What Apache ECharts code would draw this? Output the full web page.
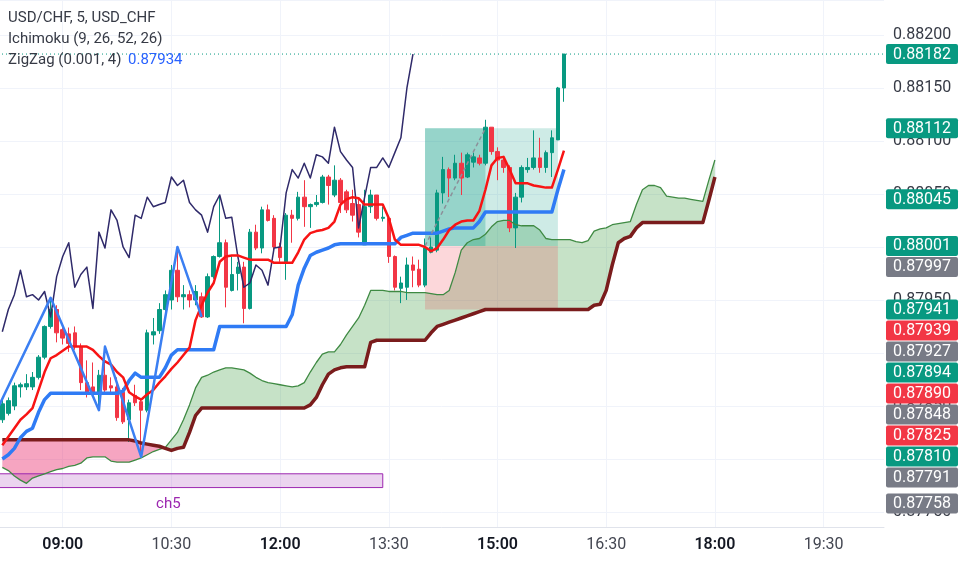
<!DOCTYPE html>
<html><head><meta charset="utf-8">
<script src="https://cdn.jsdelivr.net/npm/echarts@6/dist/echarts.min.js"></script>
<style>html,body{margin:0;padding:0;background:#fff}#c{width:962px;height:564px}</style>
</head><body><div id="c"></div>
<script>
// ---- time slots (5 min) from 07:30; first candle at slot 8 (08:10) ----
const slotCount = 155;
const firstBar = 8;
const lagShift = 25;
const tickLabels = ['09:00','10:30','12:00','13:30','15:00','16:30','18:00','19:30'];
const boldLabels = ['09:00','12:00','15:00','18:00'];

const opens = [
0.87837,0.87843,0.87850,0.87868,0.87868,0.87868,0.87877,0.87896,0.87925,0.87941,
0.87922,0.87918,0.87919,0.87906,0.87872,0.87868,0.87863,0.87879,0.87869,0.87868,
0.87863,0.87837,0.87860,0.87854,0.87846,0.87917,0.87921,0.87941,0.87950,0.87978,
0.87953,0.87955,0.87950,0.87953,0.87934,0.87972,0.87991,0.88004,0.87959,0.87975,
0.87981,0.87942,0.88014,0.87999,0.88035,0.88027,0.88000,0.87986,0.88030,0.88027,
0.88047,0.88038,0.88040,0.88042,0.88066,0.88049,0.88063,0.88052,0.88041,0.88040,
0.88002,0.88038,0.88049,0.88027,0.88027,0.87991,0.87961,0.87962,0.87983,0.87979,
0.87964,0.87995,0.87997,0.88051,0.88073,0.88065,0.88079,0.88066,0.88080,0.88084,
0.88079,0.88113,0.88090,0.88082,0.88075,0.88018,0.88047,0.88073,0.88075,0.88084,
0.88075,0.88089,0.88101,0.88150];
const closes = [
0.87852,0.87855,0.87869,0.87870,0.87871,0.87877,0.87896,0.87925,0.87941,0.87919,
0.87914,0.87909,0.87906,0.87872,0.87863,0.87863,0.87879,0.87865,0.87867,0.87839,
0.87835,0.87853,0.87853,0.87846,0.87919,0.87920,0.87941,0.87955,0.87978,0.87953,
0.87955,0.87950,0.87958,0.87934,0.87972,0.87991,0.88004,0.87962,0.87974,0.87981,
0.87942,0.88014,0.87999,0.88035,0.88025,0.88000,0.87990,0.88030,0.88027,0.88047,
0.88038,0.88040,0.88042,0.88066,0.88058,0.88063,0.88042,0.88035,0.88030,0.88014,
0.88038,0.88049,0.88027,0.88028,0.87991,0.87962,0.87966,0.87983,0.87978,0.87964,
0.87999,0.88000,0.88051,0.88073,0.88065,0.88079,0.88065,0.88087,0.88085,0.88079,
0.88113,0.88090,0.88082,0.88075,0.88018,0.88047,0.88075,0.88075,0.88084,0.88075,
0.88089,0.88103,0.88150,0.88182];
const lows = [
0.87834,0.87841,0.87846,0.87858,0.87865,0.87865,0.87875,0.87894,0.87923,0.87910,
0.87908,0.87901,0.87903,0.87865,0.87858,0.87861,0.87846,0.87862,0.87863,0.87836,
0.87833,0.87816,0.87850,0.87802,0.87844,0.87908,0.87918,0.87939,0.87941,0.87948,
0.87941,0.87943,0.87945,0.87933,0.87933,0.87970,0.87990,0.87943,0.87958,0.87959,
0.87928,0.87941,0.87997,0.87994,0.88024,0.87997,0.87986,0.87969,0.88004,0.88025,
0.88019,0.88018,0.88038,0.88041,0.88040,0.88047,0.88032,0.88032,0.88024,0.88009,
0.88002,0.88032,0.88025,0.88024,0.87985,0.87959,0.87947,0.87950,0.87962,0.87962,
0.87962,0.87994,0.87995,0.88041,0.88047,0.88063,0.88049,0.88065,0.88075,0.88077,
0.88077,0.88087,0.88063,0.88070,0.88014,0.87999,0.88042,0.88070,0.88073,0.88070,
0.88070,0.88066,0.88101,0.88137];
const highs = [
0.87856,0.87858,0.87872,0.87872,0.87880,0.87882,0.87898,0.87926,0.87952,0.87945,
0.87925,0.87924,0.87925,0.87909,0.87893,0.87891,0.87884,0.87906,0.87877,0.87877,
0.87867,0.87856,0.87870,0.87857,0.87922,0.87933,0.87947,0.87959,0.87983,0.88000,
0.87964,0.87959,0.87964,0.87957,0.87975,0.87992,0.88049,0.88007,0.87991,0.87986,
0.87986,0.88017,0.88021,0.88038,0.88040,0.88030,0.88004,0.88032,0.88035,0.88052,
0.88063,0.88041,0.88049,0.88068,0.88068,0.88077,0.88065,0.88054,0.88054,0.88046,
0.88054,0.88054,0.88049,0.88038,0.88027,0.87992,0.87972,0.87990,0.87991,0.87988,
0.88008,0.88009,0.88054,0.88085,0.88075,0.88087,0.88089,0.88089,0.88089,0.88087,
0.88120,0.88113,0.88094,0.88085,0.88077,0.88051,0.88077,0.88084,0.88110,0.88103,
0.88091,0.88110,0.88151,0.88182];

// Ichimoku (9, 26, 52, 26)
const tenkan = [
0.87813,0.87821,0.87829,0.87837,0.87842,0.87848,0.87865,0.87882,0.87895,0.87898,
0.87902,0.87906,0.87906,0.87906,0.87906,0.87903,0.87897,0.87892,0.87889,0.87882,
0.87877,0.87863,0.87859,0.87856,0.87861,0.87865,0.87872,0.87878,0.87885,0.87891,
0.87898,0.87905,0.87931,0.87945,0.87957,0.87966,0.87986,0.87991,0.87992,0.87992,
0.87990,0.87988,0.87988,0.87988,0.87988,0.87985,0.87985,0.87985,0.87985,0.87995,
0.88007,0.88013,0.88015,0.88016,0.88018,0.88024,0.88040,0.88045,0.88047,0.88046,
0.88040,0.88040,0.88040,0.88040,0.88027,0.88007,0.88002,0.88002,0.88002,0.88002,
0.88000,0.87996,0.87999,0.88007,0.88016,0.88021,0.88024,0.88025,0.88025,0.88034,
0.88054,0.88077,0.88084,0.88085,0.88073,0.88060,0.88060,0.88060,0.88058,0.88057,
0.88056,0.88056,0.88073,0.88091];
const kijun = [
0.87800,0.87804,0.87810,0.87820,0.87826,0.87829,0.87844,0.87856,0.87862,0.87862,
0.87862,0.87862,0.87862,0.87862,0.87862,0.87862,0.87862,0.87862,0.87862,0.87862,
0.87864,0.87874,0.87881,0.87877,0.87877,0.87877,0.87877,0.87886,0.87898,0.87903,
0.87903,0.87903,0.87903,0.87903,0.87903,0.87903,0.87925,0.87925,0.87925,0.87925,
0.87925,0.87925,0.87925,0.87925,0.87925,0.87925,0.87925,0.87925,0.87936,0.87964,
0.87980,0.87992,0.87995,0.87997,0.87999,0.88002,0.88003,0.88003,0.88003,0.88003,
0.88003,0.88003,0.88003,0.88003,0.88003,0.88003,0.88009,0.88011,0.88013,0.88013,
0.88013,0.88013,0.88013,0.88015,0.88017,0.88018,0.88018,0.88018,0.88018,0.88024,
0.88033,0.88033,0.88033,0.88033,0.88033,0.88033,0.88033,0.88033,0.88033,0.88033,
0.88033,0.88033,0.88054,0.88073];
// leading spans, already displaced forward (index 0 = first candle slot)
const senkouA = [
0.87792,0.87789,0.87784,0.87780,0.87777,0.87782,0.87784,0.87786,0.87788,0.87790,
0.87791,0.87793,0.87794,0.87796,0.87801,0.87802,0.87802,0.87802,0.87798,0.87797,
0.87797,0.87797,0.87799,0.87801,0.87804,0.87807,0.87809,0.87811,0.87818,0.87825,
0.87837,0.87851,0.87867,0.87877,0.87879,0.87882,0.87884,0.87886,0.87886,0.87885,
0.87884,0.87881,0.87877,0.87874,0.87872,0.87871,0.87870,0.87869,0.87868,0.87869,
0.87872,0.87882,0.87891,0.87899,0.87901,0.87901,0.87908,0.87917,0.87925,0.87933,
0.87945,0.87959,0.87959,0.87959,0.87958,0.87958,0.87958,0.87957,0.87957,0.87957,
0.87957,0.87956,0.87955,0.87955,0.87959,0.87976,0.87997,0.88004,0.88007,0.88008,
0.88012,0.88019,0.88024,0.88025,0.88025,0.88021,0.88020,0.88020,0.88020,0.88016,
0.88008,0.88007,0.88007,0.88007,0.88007,0.88005,0.88004,0.88006,0.88015,0.88017,
0.88018,0.88021,0.88022,0.88023,0.88024,0.88040,0.88054,0.88058,0.88058,0.88056,
0.88048,0.88047,0.88046,0.88046,0.88045,0.88044,0.88043,0.88063,0.88082];
const senkouB = [
0.87818,0.87818,0.87818,0.87818,0.87818,0.87818,0.87818,0.87818,0.87818,0.87818,
0.87818,0.87818,0.87818,0.87818,0.87818,0.87818,0.87818,0.87818,0.87818,0.87818,
0.87818,0.87818,0.87817,0.87815,0.87814,0.87813,0.87812,0.87810,0.87808,0.87810,
0.87811,0.87825,0.87841,0.87848,0.87848,0.87848,0.87848,0.87848,0.87848,0.87848,
0.87848,0.87848,0.87848,0.87848,0.87848,0.87848,0.87848,0.87848,0.87848,0.87848,
0.87848,0.87851,0.87858,0.87870,0.87880,0.87884,0.87886,0.87887,0.87887,0.87887,
0.87887,0.87910,0.87912,0.87912,0.87912,0.87912,0.87912,0.87912,0.87912,0.87912,
0.87912,0.87919,0.87925,0.87927,0.87929,0.87931,0.87933,0.87935,0.87937,0.87939,
0.87941,0.87941,0.87941,0.87941,0.87941,0.87941,0.87941,0.87941,0.87941,0.87941,
0.87941,0.87941,0.87941,0.87941,0.87941,0.87941,0.87941,0.87941,0.87945,0.87946,
0.87959,0.87983,0.88004,0.88008,0.88010,0.88018,0.88023,0.88023,0.88023,0.88023,
0.88023,0.88023,0.88023,0.88023,0.88023,0.88023,0.88023,0.88044,0.88066];

// ZigZag (0.001, 4) pivots: slot index / price
const zigzagSlots = [4, 16, 24, 25, 31, 37, 41];
const zigzagPrices = [0.87809, 0.87952, 0.87846, 0.87906, 0.87802, 0.88000, 0.87934];

// Long position drawing
const posStartSlot = 78, posHitSlot = 88, posEndSlot = 100;
const posEntry = 0.88001, posTarget = 0.88112, posStop = 0.87941;
// ch5 rectangle
const boxStartSlot = 0, boxEndSlot = 71, boxTop = 0.87786, boxBottom = 0.87773;

const lastPrice = 0.88182;
const yMin = 0.877358, yMax = 0.882330;

// price scale tags
const tagValues = [0.88182,0.88112,0.88045,0.88001,0.87997,0.87941,0.87939,0.87927,0.87894,0.87890,0.87848,0.87825,0.87810,0.87791,0.87758];
const tagKinds  = ['up','up','up','up','gray','up','down','gray','up','down','gray','down','up','gray','gray'];

// ---------------------------------------------------------------
const UP = '#089981', DOWN = '#f23645', GRAY = '#787b86';
const tagColor = {up: UP, down: DOWN, gray: GRAY};

const categories = [];
for (let i = 0; i < slotCount; i++) {
  const t = 450 + i * 5;
  const h = Math.floor(t / 60), m = t % 60;
  categories.push(String(h).padStart(2, '0') + ':' + String(m).padStart(2, '0'));
}
const candleData = opens.map((o, i) => [firstBar + i, o, closes[i], lows[i], highs[i]]);
const toPairs = arr => arr.map((v, i) => [firstBar + i, v]);
const chikou = closes.slice(lagShift).map((c, j) => [firstBar + j, c]);
const pinkFill = senkouB.map((b, i) => [firstBar + i, Math.max(b - senkouA[i], 0)]);
const greenFill = senkouA.map((a, i) => [firstBar + i, Math.max(a - senkouB[i], 0)]);
const zigzag = zigzagSlots.map((s, i) => [s, zigzagPrices[i]]);

const chart = echarts.init(document.getElementById('c'));
const hidden = {symbol: 'none', silent: true, lineStyle: {width: 0, opacity: 0}};

chart.setOption({
  animation: false,
  backgroundColor: '#ffffff',
  textStyle: {fontFamily: 'Roboto'},
  grid: {left: -46, right: 78, top: 0, bottom: 37, containLabel: false, outerBoundsMode: 'none'},
  axisPointer: {show: false},
  tooltip: {show: false},
  xAxis: {
    type: 'category', data: categories, boundaryGap: false,
    axisPointer: {show: false},
    axisLine: {show: true, lineStyle: {color: '#e0e3eb'}},
    axisTick: {show: false},
    axisLabel: {
      interval: (i, v) => tickLabels.includes(v), margin: 10,
      formatter: v => boldLabels.includes(v) ? '{b|' + v + '}' : '{n|' + v + '}',
      rich: {b: {fontSize: 16, fontWeight: 600, color: '#131722', fontFamily: 'Roboto'},
             n: {fontSize: 16, fontWeight: 400, color: '#434651', fontFamily: 'Roboto'}}
    },
    splitLine: {show: true, interval: (i, v) => tickLabels.includes(v), lineStyle: {color: '#f0f3fa'}}
  },
  yAxis: {
    type: 'value', position: 'right', min: yMin, max: yMax, splitNumber: 10, scale: true,
    axisPointer: {show: false},
    axisLine: {show: false}, axisTick: {show: false},
    axisLabel: {formatter: v => v.toFixed(5), color: '#363a45', fontSize: 16, margin: 9,
                showMinLabel: false, showMaxLabel: false},
    splitLine: {lineStyle: {color: '#f0f3fa'}}
  },
  series: [
    Object.assign({type: 'line', name: 'pinkBase', data: toPairs(senkouA), stack: 'pink', z: 1,
      markArea: {
        silent: true, z: 2, label: {show: false},
        data: [
          [{coord: [posStartSlot, posEntry], itemStyle: {color: 'rgba(8,153,129,0.2)'}}, {coord: [posEndSlot, posTarget]}],
          [{coord: [posStartSlot, posEntry], itemStyle: {color: 'rgba(8,153,129,0.28)'}}, {coord: [posHitSlot, posTarget]}],
          [{coord: [posStartSlot, posStop], itemStyle: {color: 'rgba(242,54,69,0.2)'}}, {coord: [posEndSlot, posEntry]}],
          [{name: 'ch5', coord: [boxStartSlot, boxTop],
            itemStyle: {color: 'rgba(156,39,176,0.2)', borderColor: '#9c27b0', borderWidth: 1},
            label: {show: true, position: 'bottom', distance: 9, formatter: '{b}', color: '#9c27b0', fontSize: 15, fontFamily: 'Roboto'}},
           {coord: [boxEndSlot, boxBottom]}]
        ]
      }}, hidden),
    Object.assign({type: 'line', data: pinkFill, stack: 'pink', z: 1,
      areaStyle: {color: 'rgba(233,30,99,0.4)', opacity: 1}}, hidden),
    Object.assign({type: 'line', data: toPairs(senkouB), stack: 'green', z: 1}, hidden),
    Object.assign({type: 'line', data: greenFill, stack: 'green', z: 1,
      areaStyle: {color: 'rgba(67,160,71,0.3)', opacity: 1}}, hidden),
    // last-price line
    {type: 'line', data: [[0, lastPrice], [slotCount - 1, lastPrice]], symbol: 'none', z: 2, silent: true,
     lineStyle: {color: UP, width: 1, type: [1, 3]}},
    {
      type: 'candlestick', data: candleData, encode: {x: 0, y: [1, 2, 3, 4]}, barWidth: 4, z: 3,
      itemStyle: {color: UP, color0: DOWN, borderColor: UP, borderColor0: DOWN, borderWidth: 1}
    },
    {type: 'line', data: toPairs(senkouA), symbol: 'none', z: 4, silent: true,
     lineStyle: {color: '#3f8a43', width: 1.3, join: 'round'}},
    {type: 'line', data: toPairs(senkouB), symbol: 'none', z: 4, silent: true,
     lineStyle: {color: '#7a1c1c', width: 3.5, join: 'round'}},
    {type: 'line', data: chikou, symbol: 'none', z: 4, silent: true,
     lineStyle: {color: '#2f2a6a', width: 1.5, join: 'round'}},
    {type: 'line', data: toPairs(kijun), symbol: 'none', z: 4, silent: true,
     lineStyle: {color: '#2f7bf5', width: 3.5, join: 'round'}},
    {type: 'line', data: toPairs(tenkan), symbol: 'none', z: 4, silent: true,
     lineStyle: {color: '#f81414', width: 2.5, join: 'round'}},
    {type: 'line', data: zigzag, symbol: 'none', z: 4, silent: true,
     lineStyle: {color: '#3b7ff2', width: 2.5, join: 'round'}},
    {type: 'line', data: [[posStartSlot, posEntry], [posHitSlot, posTarget]], symbol: 'none', z: 4, silent: true,
     lineStyle: {color: '#8c8f99', width: 1.5, type: [4, 3]}}
  ]
});

// legend texts + stacked price tags
const els = [];
const legendFont = '15px Roboto';
els.push({type: 'text', x: 8, y: 18, z: 50, silent: true,
  style: {text: 'USD/CHF, 5, USD_CHF', fill: '#363a45', font: legendFont, verticalAlign: 'middle', textVerticalAlign: 'middle'}});
els.push({type: 'text', x: 8, y: 39, z: 50, silent: true,
  style: {text: 'Ichimoku (9, 26, 52, 26)', fill: '#363a45', font: legendFont, verticalAlign: 'middle', textVerticalAlign: 'middle'}});
els.push({type: 'text', x: 8, y: 60, z: 50, silent: true,
  style: {text: 'ZigZag (0.001, 4)', fill: '#363a45', font: legendFont, verticalAlign: 'middle', textVerticalAlign: 'middle'}});
els.push({type: 'text', x: 128, y: 60, z: 50, silent: true,
  style: {text: zigzagPrices[zigzagPrices.length - 1].toFixed(5), fill: '#2962ff', font: legendFont, verticalAlign: 'middle', textVerticalAlign: 'middle'}});

let prevBottom = -1e9;
const tagH = 20, tagGap = 1;
tagValues.forEach((v, i) => {
  const y = chart.convertToPixel({yAxisIndex: 0}, v);
  let top = y - tagH / 2;
  if (top < prevBottom + tagGap) top = prevBottom + tagGap;
  prevBottom = top + tagH;
  els.push({type: 'rect', z: 60, silent: true, shape: {x: 886, y: top, width: 72, height: tagH, r: 2},
    style: {fill: tagColor[tagKinds[i]]}});
  els.push({type: 'text', z: 61, silent: true, x: 922, y: top + tagH / 2 + 0.5,
    style: {text: v.toFixed(5), fill: '#ffffff', font: '16px Roboto', align: 'center', verticalAlign: 'middle',
            textAlign: 'center', textVerticalAlign: 'middle'}});
});
chart.setOption({graphic: els});
</script>
</body></html>
